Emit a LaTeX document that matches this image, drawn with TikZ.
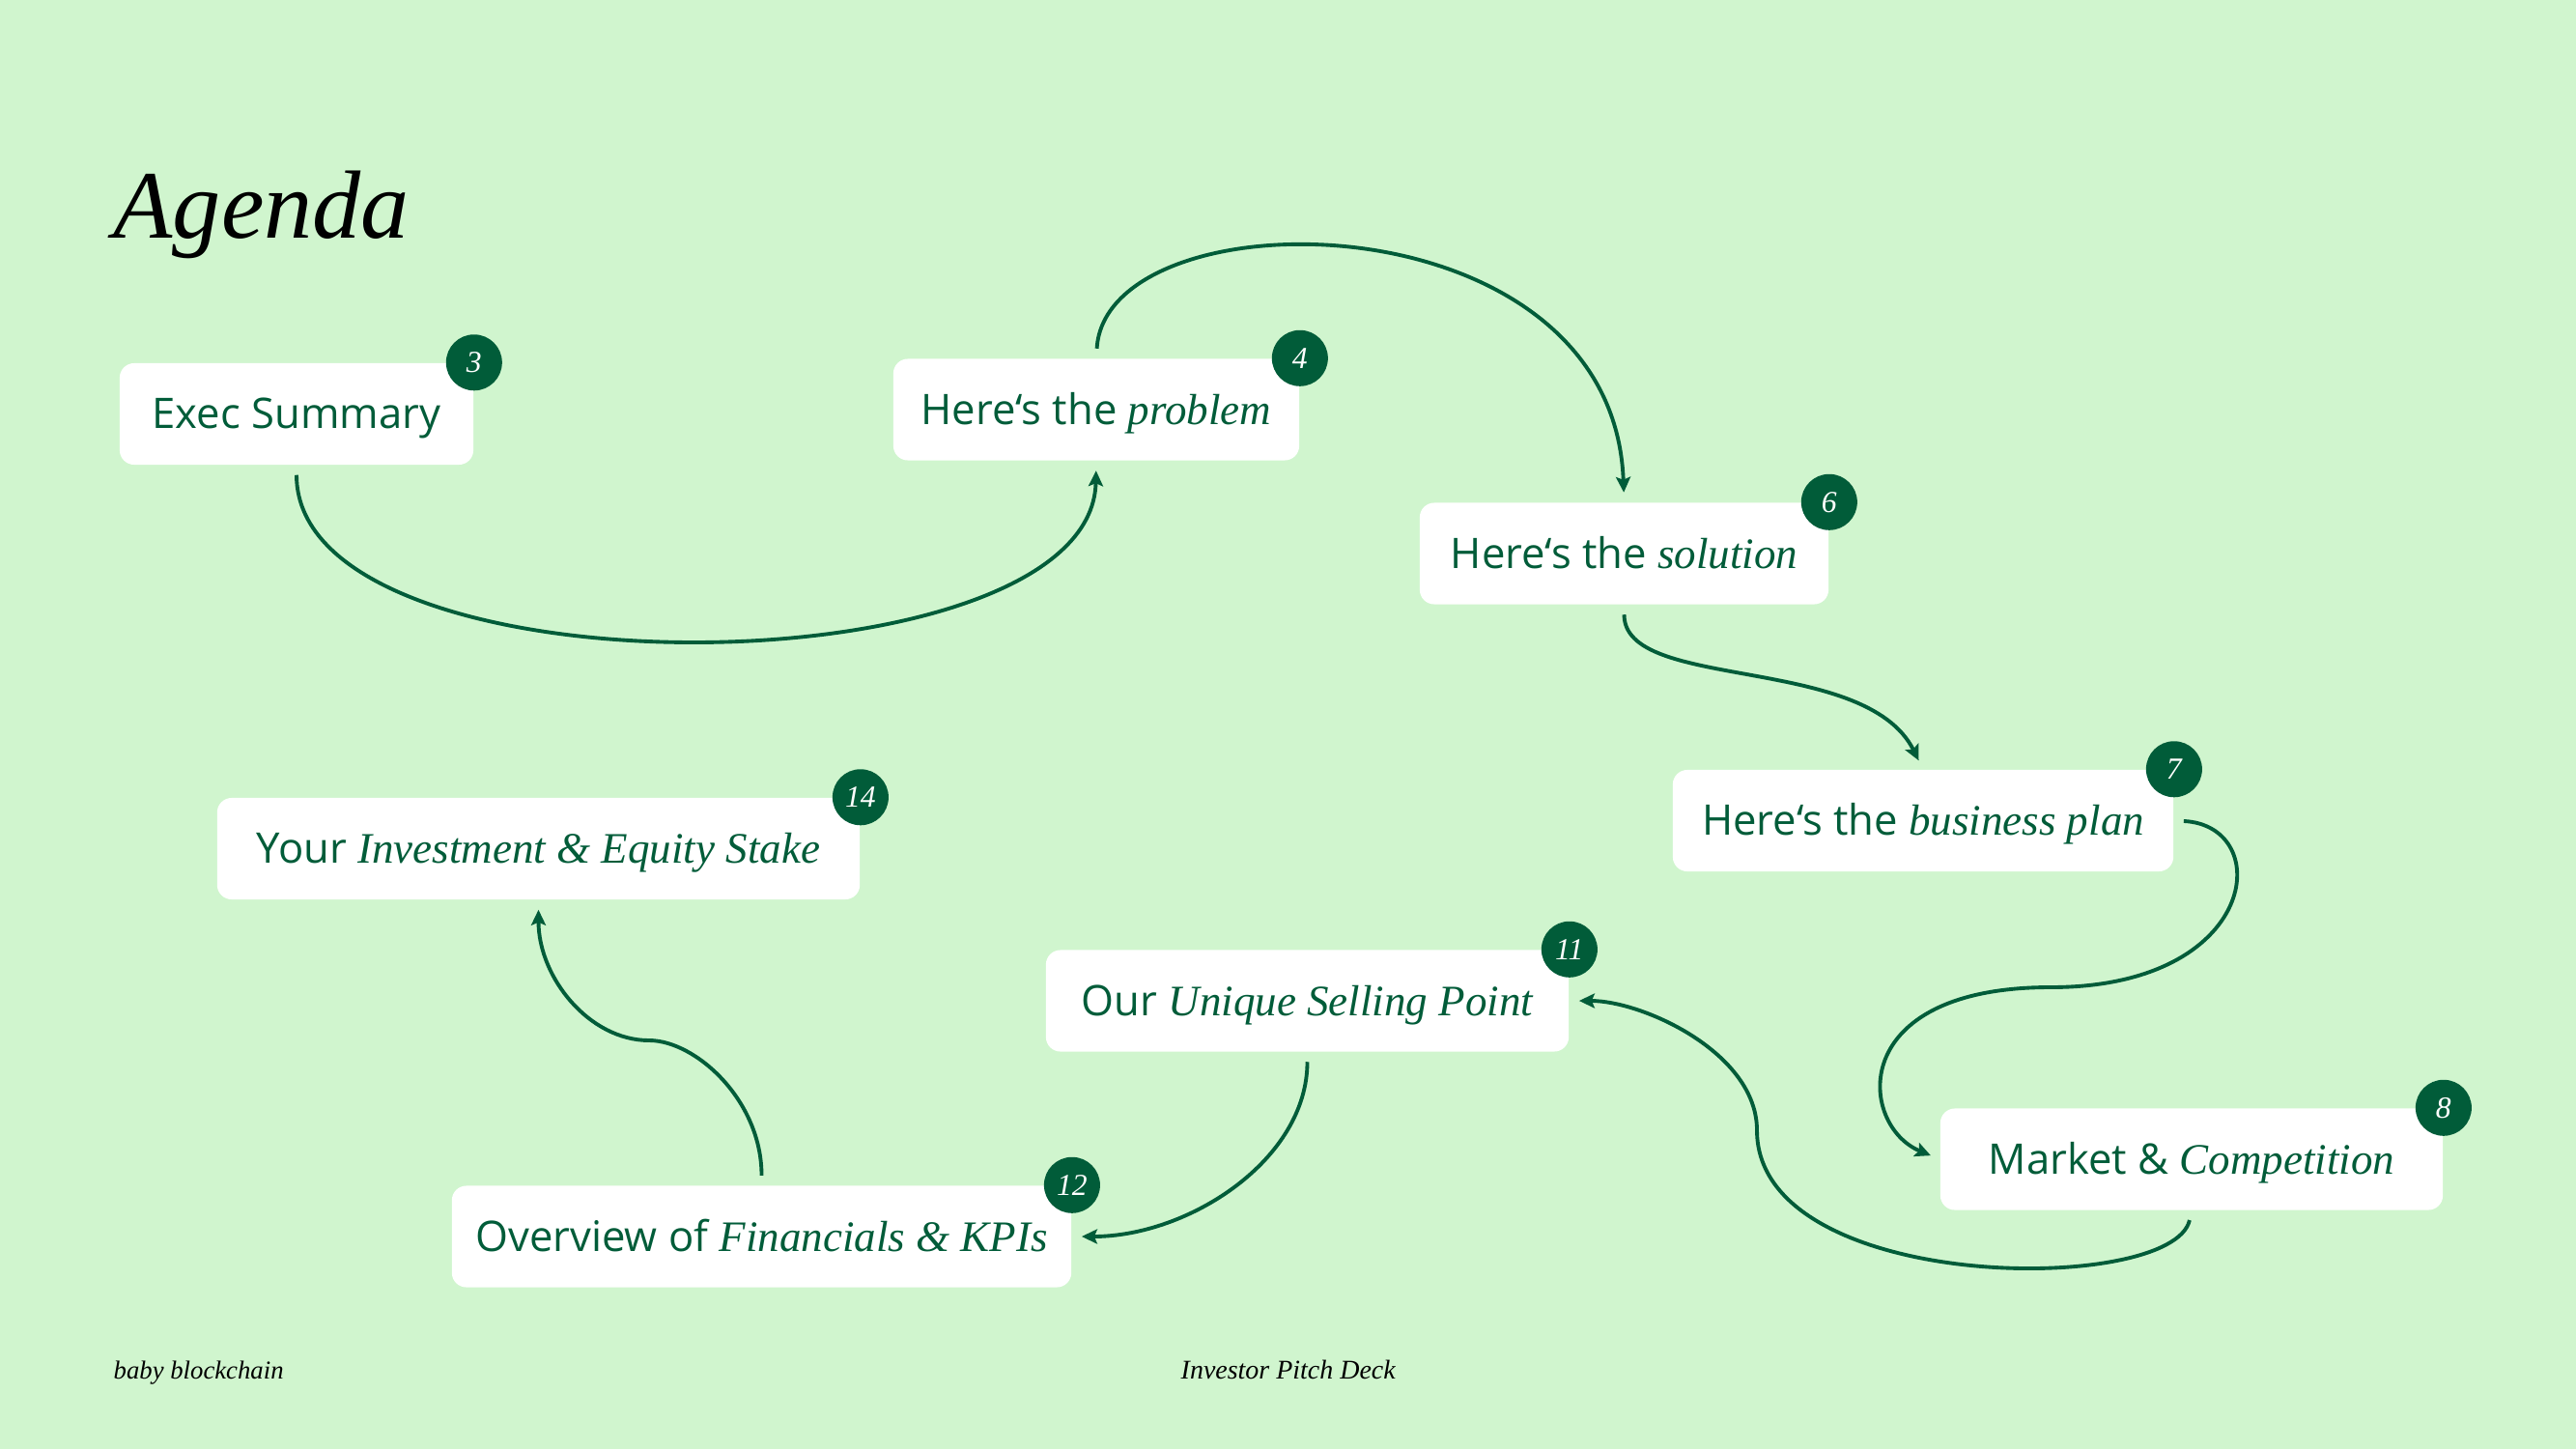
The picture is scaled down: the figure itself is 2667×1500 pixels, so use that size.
\documentclass[tikz,border=0pt]{standalone}
\usepackage{fontspec}
\setmainfont{Liberation Serif}
\newfontfamily\boxsans{Open Sans}
\usetikzlibrary{arrows.meta}
\definecolor{ABack}{RGB}{208,245,206}
\definecolor{AGreen}{RGB}{1,92,57}
\newcommand{\emphit}[1]{{\rmfamily\itshape\fontsize{12.8}{14}\selectfont #1}}

\begin{document}
\begin{tikzpicture}[x=0.01cm, y=-0.01cm,
    agendabox/.style={fill=white, rounded corners=0.15cm, minimum height=1.05cm,
      inner sep=0pt, text height=0.40cm, text depth=0.10cm, text=AGreen,
      font=\boxsans\fontsize{12.4}{14}\selectfont},
    pagebadge/.style={circle, fill=AGreen, minimum size=0.58cm, inner sep=0pt,
      text=white, font=\itshape\fontsize{9}{10}\selectfont},
    flow/.style={draw=AGreen, line width=1.1pt, shorten <=0.1cm, shorten >=0.1cm,
      -{Stealth[length=0.16cm, width=0.15cm, inset=0.03cm]}}
  ]
  % background
  \fill[ABack] (0,0) rectangle (2667,1500);

  % title and footer
  \node[anchor=base west, inner sep=0pt, font=\itshape\fontsize{28.5}{30}\selectfont] (title) at (117,246) {Agenda};
  \node[anchor=base west, inner sep=0pt, font=\itshape\fontsize{7.6}{9}\selectfont] (brand) at (117,1427) {baby blockchain};
  \node[anchor=base west, inner sep=0pt, font=\itshape\fontsize{7.95}{9}\selectfont] (deck) at (1222,1427) {Investor Pitch Deck};

  % agenda items
  \node[agendabox, minimum width=3.66cm] (exec) at (307,428.5) {Exec Summary};
  \node[agendabox, minimum width=4.20cm] (problem) at (1135,424) {Here‘s the \emphit{problem}};
  \node[agendabox, minimum width=4.23cm] (solution) at (1681.5,573) {Here‘s the \emphit{solution}};
  \node[agendabox, minimum width=5.18cm] (bplan) at (1991,849.5) {Here‘s the \emphit{business plan}};
  \node[agendabox, minimum width=5.20cm] (market) at (2269,1200) {Market \& \emphit{Competition}};
  \node[agendabox, minimum width=5.41cm] (usp) at (1353.5,1036) {Our \emphit{Unique Selling Point}};
  \node[agendabox, minimum width=6.41cm] (fin) at (788.5,1280) {Overview of \emphit{Financials \& KPIs}};
  \node[agendabox, minimum width=6.65cm] (invest) at (557.5,878.5) {Your \emphit{Investment \& Equity Stake}};

  % page numbers
  \foreach \nd/\pg in {exec/3, problem/4, solution/6, bplan/7, market/8, usp/11, fin/12, invest/14}
    \node[pagebadge] (badge\pg) at (\nd.north east) {\pg};

  % connectors
  \coordinate (bplanbend) at (2123,1022);
  \coordinate (marketbend) at (1819,1170);
  \coordinate (finbend) at (672,1077);
  \draw[flow] (exec.south) .. controls +(0,244) and +(-5,240) .. (problem.south);
  \draw[flow] (problem.north) .. controls +(10,-172) and +(-11.5,-320) .. (solution.north);
  \draw[flow] (solution.south) .. controls +(0,90) and +(-60,-120) .. (bplan.north);
  \draw[flow] (bplan.east) .. controls +(105,5) and +(217,0) .. (bplanbend)
    .. controls +(-213,0) and +(-84,-35) .. (market.west);
  \draw[flow] (market.south) .. controls +(-19,88) and +(0,170) .. (marketbend)
    .. controls +(0,-80) and +(76,0) .. (usp.east);
  \draw[flow] (usp.south) .. controls +(0,111) and +(121,0) .. (fin.east);
  \draw[flow] (fin.north) .. controls +(0,-88) and +(48,0) .. (finbend)
    .. controls +(-62,0) and +(0,80) .. (invest.south);
\end{tikzpicture}
\end{document}
